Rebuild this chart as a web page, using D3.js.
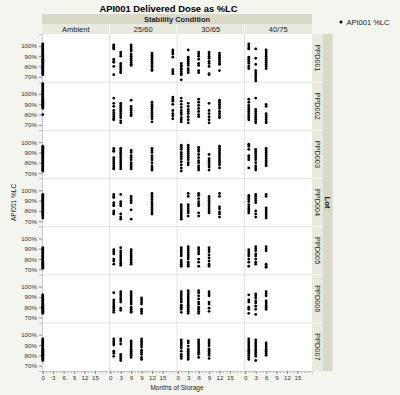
<!DOCTYPE html>
<html>
<head>
<meta charset="utf-8">
<script src="https://cdn.jsdelivr.net/npm/d3@7"></script>
<style>
  body { margin: 0; background: #f5f5ef; }
  text { font-family: "Liberation Sans", Arial, sans-serif; }
</style>
</head>
<body>
<div id="chart"></div>
<script>
var conditions = ["Ambient", "25/60", "30/65", "40/75"];
var lots = ["PPD001", "PPD002", "PPD003", "PPD004", "PPD005", "PPD006", "PPD007"];
var xTicks = [0, 3, 6, 9, 12, 15];
var yTicks = [70, 80, 90, 100];

// [condition, months of storage, API001 %LC values]
var ppd001 = [
  ["Ambient", 0, [102,101,100,99,98,97,96,95,94,93,92,91,90,88,87,86,85,84,83,82,81,80,79,78,77,76,75,74,73,72]],
  ["25/60", 1, [101,100,99,98,97,87,85,84,80,72]],
  ["25/60", 3, [94,92,90,83,81,79,77,75,74]],
  ["25/60", 6, [101,99,97,95,92,90,88,86,84,82,81]],
  ["25/60", 12, [93,91,89,87,85,83,81,79,77,76]],
  ["25/60", 18, [96,94,92,89,77,75,73]],
  ["30/65", 1, [83,81,80,78,77,75,73,72,67]],
  ["30/65", 3, [96,89,87,85,83,81,78,76,74]],
  ["30/65", 6, [94,92,90,87,83,81,76,74]],
  ["30/65", 9, [94,92,90,88,85,83,80,73,72]],
  ["30/65", 12, [93,91,89,87,85,83,82,76]],
  ["40/75", 1, [102,100,98,97,89,87,85,83,80,78]],
  ["40/75", 3, [97,88,82,76,74,72,70,68,66]],
  ["40/75", 6, [96,94,92,90,88,86,84,82,80,78]]
];
var ppd002 = [
  ["Ambient", 0, [110,109,108,107,106,105,104,103,102,101,100,99,98,97,96,95,94,93,92,91,90,89,88,87,86,80]],
  ["25/60", 1, [96,91,88,84,82,80,78,76,75]],
  ["25/60", 3, [91,89,87,85,83,81,79,77,74,72]],
  ["25/60", 6, [94,88,86,84,82,80,79]],
  ["25/60", 12, [92,90,88,86,84,82,80,78,76,73]],
  ["25/60", 18, [97,95,93,90,84,81,79,76]],
  ["30/65", 1, [96,93,90,87,84,82,80,77,75,73]],
  ["30/65", 3, [91,88,85,83,81,78,75,72]],
  ["30/65", 6, [95,92,89,86,83,80,78]],
  ["30/65", 9, [91,84,81,78,75,72]],
  ["30/65", 12, [94,92,90,88,86,83,81,79,77]],
  ["40/75", 1, [95,92,89,87,85,83,81,79,77,75]],
  ["40/75", 3, [96,85,83,81,79,77,75,73,72]],
  ["40/75", 6, [90,88,81,79,77,75,73,72]]
];
var ppd003 = [
  ["Ambient", 0, [96,95,94,93,92,91,90,89,88,87,86,85,84,83,82,81,80,79,78,77,76,75,74,73,72]],
  ["25/60", 1, [94,92,91,85,83,81,79,77,75,74]],
  ["25/60", 3, [94,92,90,88,86,84,82,80,78,76,74]],
  ["25/60", 6, [92,90,87,85,83,80,78,76,74]],
  ["25/60", 12, [94,92,90,87,85,83,80,77,75,73]],
  ["30/65", 1, [97,95,93,90,88,86,84,81,78,75,72]],
  ["30/65", 3, [97,95,93,91,89,87,85,83,80,78]],
  ["30/65", 6, [95,93,91,88,85,82,80,77,75,73]],
  ["30/65", 9, [88,84,82,80,78,76,73]],
  ["30/65", 12, [96,94,92,90,88,86,84,82,80,78,75]],
  ["40/75", 1, [98,96,93,87,85,83,75]],
  ["40/75", 3, [93,91,89,87,85,83,80,77,75,73]],
  ["40/75", 6, [94,92,90,88,86,84,82,80,78,77]]
];
var ppd004 = [
  ["Ambient", 0, [96,95,94,93,92,91,90,89,88,87,86,85,84,83,82,81,80,79,78,77,76,75,73]],
  ["25/60", 1, [96,94,93,88,86,85,80,78,77]],
  ["25/60", 3, [96,89,87,85,77,74,72]],
  ["25/60", 6, [94,92,90,88,81,72]],
  ["25/60", 12, [97,95,93,91,89,87,85,83,81,79,77]],
  ["30/65", 1, [86,84,82,80,78,76,74,72]],
  ["30/65", 3, [97,94,86,84,82,80,78,75]],
  ["30/65", 6, [97,95,92,89,87,85,78,75]],
  ["30/65", 9, [94,92,90,88,86,84,82,80,78]],
  ["30/65", 12, [97,94,84,82,79,77,74]],
  ["40/75", 1, [95,93,91,89,86,84,82,80,78]],
  ["40/75", 3, [96,94,92,90,88,80,77,74]],
  ["40/75", 6, [96,94,83,81,79,77,75,73]]
];
var ppd005 = [
  ["Ambient", 0, [91,90,89,88,87,86,85,84,83,82,81,80,79,78,77,76,75,74,73,72,71]],
  ["25/60", 1, [89,87,85,80,78,75]],
  ["25/60", 3, [91,88,86,84,82,80,78,76,74]],
  ["25/60", 6, [89,87,85,83,81,79,77,75]],
  ["30/65", 1, [91,89,87,85,83,79,77,75,73]],
  ["30/65", 3, [92,90,88,86,84,82,80,77,75,73]],
  ["30/65", 6, [91,89,87,85,80,77,73]],
  ["30/65", 9, [91,89,87,84,81,78,75,73]],
  ["40/75", 1, [89,87,85,83,80,77,73]],
  ["40/75", 3, [92,90,88,85,83,80,77,75]],
  ["40/75", 6, [92,90,88,75,73,72]]
];
var ppd006 = [
  ["Ambient", 0, [92,91,90,89,88,87,86,85,84,83,82,81,80,79,78,77,76,75,74]],
  ["25/60", 1, [94,87,85,83,81,79,77,75]],
  ["25/60", 3, [95,93,91,89,87,85,79,77]],
  ["25/60", 6, [95,93,91,89,87,85,83,80,78,76,75]],
  ["25/60", 9, [89,87,85,83,78,76,74]],
  ["30/65", 1, [95,93,91,89,87,85,82,80,78,75]],
  ["30/65", 3, [96,94,92,90,88,86,84,82,80,78,76,74]],
  ["30/65", 6, [96,94,91,88,85,83,80,78,76,74]],
  ["30/65", 9, [95,93,91,85,83,79,76]],
  ["40/75", 1, [92,87,85,80,78,74]],
  ["40/75", 3, [93,91,89,86,84,81,78,73]],
  ["40/75", 6, [95,93,91,86,84,82,80,78]]
];
var ppd007 = [
  ["Ambient", 0, [96,95,94,93,92,91,90,89,88,87,86,85,84,83,82,81,80,79,78,77,76,75]],
  ["25/60", 1, [96,94,92,90,84,82,79]],
  ["25/60", 3, [96,94,91,81,79,77,75]],
  ["25/60", 6, [94,92,90,88,86,84,82,80,78]],
  ["25/60", 9, [96,94,92,90,88,85,83,81,78,76]],
  ["30/65", 1, [95,93,91,89,87,84,81,79,77]],
  ["30/65", 3, [94,92,89,86,84,82,80,78,76]],
  ["30/65", 6, [95,93,91,89,87,85,83,81,78]],
  ["30/65", 9, [95,93,91,89,86,84,82,80,77]],
  ["40/75", 1, [96,94,92,90,88,86,84,82,80,78,76]],
  ["40/75", 3, [95,93,91,89,87,85,83,81,79,75]],
  ["40/75", 6, [92,90,88,86,84,82,80]]
];
var lotData = [ppd001, ppd002, ppd003, ppd004, ppd005, ppd006, ppd007];

var width = 400, height = 395;
var pLeft = 42, pRight = 312, pTop = 34, pBottom = 371;

var svg = d3.select("#chart").append("svg")
  .attr("width", width)
  .attr("height", height);

svg.append("rect").attr("width", width).attr("height", height).attr("fill", "#f5f5ef");

var col = d3.scaleBand().domain(conditions).range([pLeft, pRight]);
var row = d3.scaleBand().domain(lots).range([pTop, pBottom]);
var x = d3.scaleLinear().domain([-0.23, 19.2]).range([0, col.bandwidth()]);
var y = d3.scaleLinear().domain([64.8, 111.5]).range([row.bandwidth(), 0]);

// plot area
svg.append("rect")
  .attr("x", pLeft).attr("y", pTop)
  .attr("width", pRight - pLeft).attr("height", pBottom - pTop)
  .attr("fill", "#fff");

// panel borders
conditions.forEach(function(c, i) {
  if (i == 0) return;
  svg.append("line")
    .attr("x1", col(c)).attr("x2", col(c))
    .attr("y1", pTop).attr("y2", pBottom)
    .attr("stroke", "#e2e2e2");
});
lots.forEach(function(l, i) {
  if (i == 0) return;
  svg.append("line")
    .attr("x1", pLeft).attr("x2", pRight)
    .attr("y1", row(l)).attr("y2", row(l))
    .attr("stroke", "#e2e2e2");
});

// header bands
svg.append("rect").attr("x", pLeft).attr("y", 14).attr("width", pRight - pLeft).attr("height", 10).attr("fill", "#d9d9ca");
svg.append("rect").attr("x", pLeft).attr("y", 24).attr("width", pRight - pLeft).attr("height", 10).attr("fill", "#e9e9e0");
conditions.forEach(function(c, i) {
  if (i > 0) {
    svg.append("line").attr("x1", col(c)).attr("x2", col(c)).attr("y1", 24).attr("y2", 34).attr("stroke", "#f7f7f2");
  }
  svg.append("text")
    .attr("x", col(c) + col.bandwidth() / 2).attr("y", 31.8)
    .attr("text-anchor", "middle").attr("font-size", 7.5).attr("fill", "#222")
    .text(c);
});
svg.append("text")
  .attr("x", (pLeft + pRight) / 2).attr("y", 21.8)
  .attr("text-anchor", "middle").attr("font-size", 7.5).attr("font-weight", "bold").attr("fill", "#222")
  .text("Stability Condition");

// right strips
svg.append("rect").attr("x", pRight).attr("y", pTop).attr("width", 10.7).attr("height", pBottom - pTop).attr("fill", "#e9e9e0");
svg.append("rect").attr("x", pRight + 10.7).attr("y", pTop).attr("width", 10).attr("height", pBottom - pTop).attr("fill", "#d9d9ca");
lots.forEach(function(l, i) {
  if (i > 0) {
    svg.append("line").attr("x1", pRight).attr("x2", pRight + 10.7).attr("y1", row(l)).attr("y2", row(l)).attr("stroke", "#f7f7f2");
  }
  var cy = row(l) + row.bandwidth() / 2;
  svg.append("text")
    .attr("transform", "translate(" + (pRight + 2.8) + "," + cy + ") rotate(90)")
    .attr("text-anchor", "middle").attr("font-size", 7.3).attr("fill", "#222")
    .text(l);
});
svg.append("text")
  .attr("transform", "translate(" + (pRight + 13) + "," + ((pTop + pBottom) / 2) + ") rotate(90)")
  .attr("text-anchor", "middle").attr("font-size", 7.8).attr("font-weight", "bold").attr("fill", "#222")
  .text("Lot");

// y axes
lots.forEach(function(l) {
  var g = svg.append("g")
    .attr("transform", "translate(" + pLeft + "," + row(l) + ")")
    .call(d3.axisLeft(y).tickValues(yTicks).tickSize(3).tickFormat(function(d) { return d + "%"; }));
  g.select(".domain").attr("stroke", "#c8c8c8");
  g.selectAll(".tick line").attr("stroke", "#888");
  g.selectAll(".tick text").attr("font-size", 6.2).attr("fill", "#333").attr("font-family", "Liberation Sans, Arial, sans-serif").attr("x", -5);
});

// x axes
conditions.forEach(function(c) {
  var minor = svg.append("g")
    .attr("transform", "translate(" + col(c) + "," + pBottom + ")")
    .call(d3.axisBottom(x).tickValues(d3.range(0, 19)).tickSize(1.8).tickFormat(""));
  minor.select(".domain").remove();
  minor.selectAll(".tick line").attr("stroke", "#999");
  var g = svg.append("g")
    .attr("transform", "translate(" + col(c) + "," + pBottom + ")")
    .call(d3.axisBottom(x).tickValues(xTicks).tickSize(3));
  g.select(".domain").attr("stroke", "#c8c8c8");
  g.selectAll(".tick line").attr("stroke", "#888");
  g.selectAll(".tick text").attr("font-size", 6.2).attr("fill", "#333").attr("font-family", "Liberation Sans, Arial, sans-serif").attr("y", 5);
});

// points
lotData.forEach(function(entries, i) {
  var ry = row(lots[i]);
  entries.forEach(function(e) {
    var cx = col(e[0]) + x(e[1]);
    e[2].forEach(function(v) {
      svg.append("circle")
        .attr("cx", cx)
        .attr("cy", ry + y(v))
        .attr("r", 1.4)
        .attr("fill", "#000");
    });
  });
});

// titles
svg.append("text")
  .attr("x", 168.5).attr("y", 11.5)
  .attr("text-anchor", "middle").attr("font-size", 9.4).attr("font-weight", "bold").attr("fill", "#000")
  .text("API001 Delivered Dose as %LC");
svg.append("text")
  .attr("x", (pLeft + pRight) / 2).attr("y", 390)
  .attr("text-anchor", "middle").attr("font-size", 6.5).attr("fill", "#222")
  .text("Months of Storage");
svg.append("text")
  .attr("transform", "translate(16," + ((pTop + pBottom) / 2) + ") rotate(-90)")
  .attr("text-anchor", "middle").attr("font-size", 6.5).attr("fill", "#222")
  .text("API001 %LC");

// legend
svg.append("circle").attr("cx", 341).attr("cy", 22).attr("r", 1.5).attr("fill", "#000");
svg.append("text")
  .attr("x", 346.5).attr("y", 24.6)
  .attr("font-size", 7.5).attr("fill", "#222")
  .text("API001 %LC");
</script>
</body>
</html>
